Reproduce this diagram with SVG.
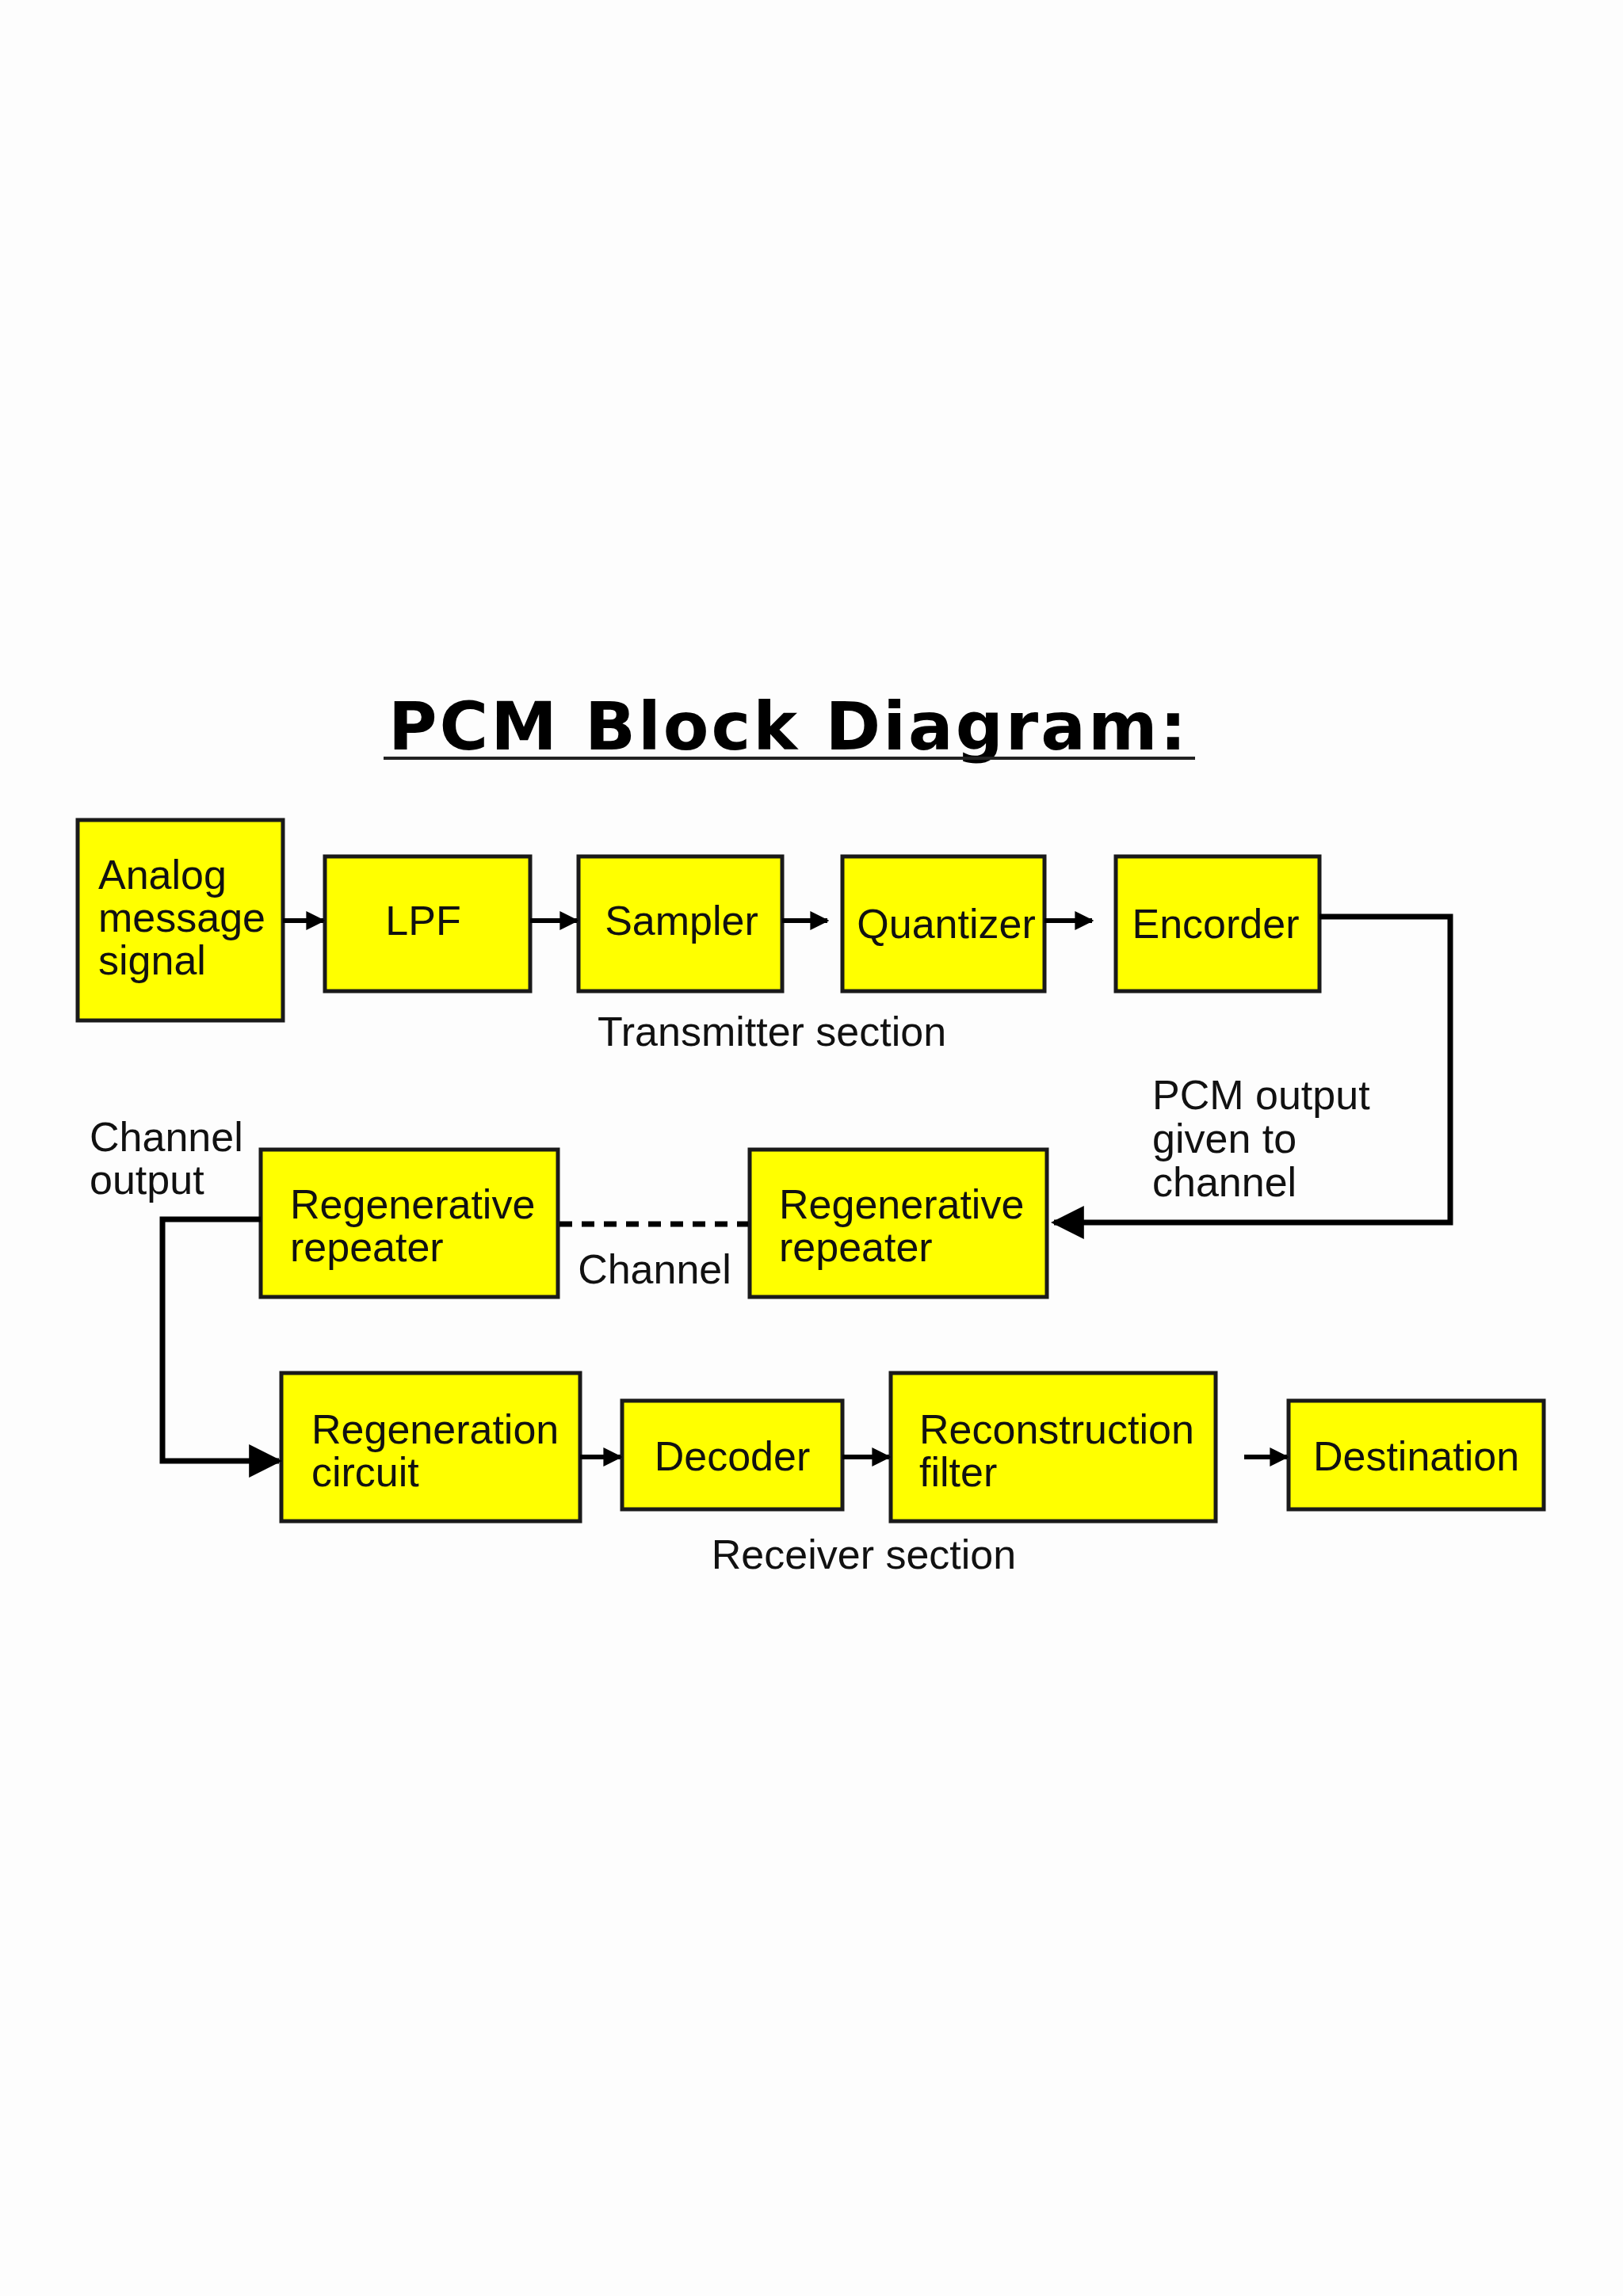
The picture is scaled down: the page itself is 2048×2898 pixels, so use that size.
<svg xmlns="http://www.w3.org/2000/svg" width="2048" height="2898" viewBox="0 0 2048 2898">
<defs>
<style>
.b{fill:#ffff00;stroke:#1a1a1a;stroke-width:5}
.t{font-family:"Liberation Sans",Arial,sans-serif;font-size:52px;fill:#111}
.c{stroke:#000;fill:none}
</style>
<marker id="a" viewBox="0 0 10 10" refX="9" refY="5" markerWidth="6" markerHeight="6" orient="auto" markerUnits="strokeWidth"><path d="M0,0L10,5L0,10z" fill="#000"/></marker>
<marker id="s" viewBox="0 0 10 10" refX="9" refY="5" markerWidth="4" markerHeight="4" orient="auto" markerUnits="strokeWidth"><path d="M0,0L10,5L0,10z" fill="#000"/></marker>
</defs>
<rect width="2048" height="2898" fill="#fdfdfd"/>
<g id="title">
<text x="995" y="946" text-anchor="middle" font-family="DejaVu Sans,sans-serif" font-weight="bold" font-size="84" fill="#000" letter-spacing="3">PCM Block Diagram:</text>
<line x1="484" y1="957" x2="1508" y2="957" stroke="#222" stroke-width="4"/>
</g>
<g id="n-analog"><rect class="b" x="98" y="1035" width="259" height="253"/><text class="t" x="124" y="1122">Analog</text><text class="t" x="124" y="1176">message</text><text class="t" x="124" y="1230">signal</text></g>
<g id="n-lpf"><rect class="b" x="410" y="1081" width="259" height="170"/><text class="t" x="534" y="1180" text-anchor="middle">LPF</text></g>
<g id="n-sampler"><rect class="b" x="730" y="1081" width="257" height="170"/><text class="t" x="860" y="1180" text-anchor="middle">Sampler</text></g>
<g id="n-quant"><rect class="b" x="1063" y="1081" width="255" height="170"/><text class="t" x="1194" y="1184" text-anchor="middle">Quantizer</text></g>
<g id="n-enc"><rect class="b" x="1408" y="1081" width="257" height="170"/><text class="t" x="1534" y="1184" text-anchor="middle">Encorder</text></g>
<text class="t" x="974" y="1320" text-anchor="middle">Transmitter section</text>
<text class="t" x="1454" y="1400" font-size="49">PCM output</text>
<text class="t" x="1454" y="1455" font-size="49">given to</text>
<text class="t" x="1454" y="1510" font-size="49">channel</text>
<g id="n-rr2"><rect class="b" x="946" y="1451" width="375" height="186"/><text class="t" x="983" y="1538">Regenerative</text><text class="t" x="983" y="1592">repeater</text></g>
<g id="n-rr1"><rect class="b" x="329" y="1451" width="375" height="186"/><text class="t" x="366" y="1538">Regenerative</text><text class="t" x="366" y="1592">repeater</text></g>
<text class="t" x="826" y="1620" text-anchor="middle">Channel</text>
<text class="t" x="113" y="1453">Channel</text>
<text class="t" x="113" y="1507">output</text>
<g id="n-rc"><rect class="b" x="355" y="1733" width="377" height="187"/><text class="t" x="393" y="1822">Regeneration</text><text class="t" x="393" y="1876">circuit</text></g>
<g id="n-dec"><rect class="b" x="785" y="1768" width="278" height="137"/><text class="t" x="924" y="1856" text-anchor="middle">Decoder</text></g>
<g id="n-rf"><rect class="b" x="1124" y="1733" width="410" height="187"/><text class="t" x="1160" y="1822">Reconstruction</text><text class="t" x="1160" y="1876">filter</text></g>
<g id="n-dest"><rect class="b" x="1626" y="1768" width="322" height="137"/><text class="t" x="1787" y="1856" text-anchor="middle">Destination</text></g>
<text class="t" x="1090" y="1980" text-anchor="middle">Receiver section</text>
<g id="connectors">
<line class="c" stroke-width="6" x1="357" y1="1162" x2="408" y2="1162" marker-end="url(#s)"/>
<line class="c" stroke-width="6" x1="669" y1="1162" x2="728" y2="1162" marker-end="url(#s)"/>
<line class="c" stroke-width="6" x1="987" y1="1162" x2="1044" y2="1162" marker-end="url(#s)"/>
<line class="c" stroke-width="6" x1="1318" y1="1162" x2="1378" y2="1162" marker-end="url(#s)"/>
<path class="c" stroke-width="7" d="M1665,1157H1830V1543H1330" marker-end="url(#a)"/>
<line class="c" stroke-width="7" stroke-dasharray="16,12" x1="706" y1="1545" x2="944" y2="1545"/>
<path class="c" stroke-width="7" d="M329,1539H205V1844H352" marker-end="url(#a)"/>
<line class="c" stroke-width="6" x1="732" y1="1839" x2="783" y2="1839" marker-end="url(#s)"/>
<line class="c" stroke-width="6" x1="1063" y1="1839" x2="1122" y2="1839" marker-end="url(#s)"/>
<line class="c" stroke-width="6" x1="1570" y1="1839" x2="1624" y2="1839" marker-end="url(#s)"/>
</g>
</svg>
